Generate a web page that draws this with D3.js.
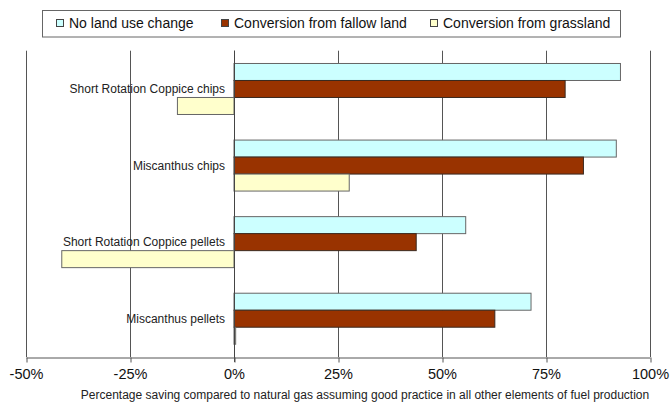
<!DOCTYPE html>
<html>
<head>
<meta charset="utf-8">
<script src="https://cdn.jsdelivr.net/npm/d3@7"></script>
<style>
  html, body { margin: 0; padding: 0; background: #fff; }
  svg { display: block; font-family: "Liberation Sans", Arial, sans-serif; }
</style>
</head>
<body>
<svg id="chart" width="670" height="402"></svg>
<script>
const categories = ["Short Rotation Coppice chips", "Miscanthus chips", "Short Rotation Coppice pellets", "Miscanthus pellets"];
const seriesNames = ["No land use change", "Conversion from fallow land", "Conversion from grassland"];
const noLandUseChange = [92.9, 91.9, 55.7, 71.4];
const fallowLand = [79.6, 84.0, 43.8, 62.7];
const grassland = [-13.6, 27.7, -41.4, 0.4];
const tickValues = [-50, -25, 0, 25, 50, 75, 100];
const colors = ["#CCFFFF", "#993300", "#FFFFCC"];
const xTitle = "Percentage saving compared to natural gas assuming good practice in all other elements of fuel production";

const series = [noLandUseChange, fallowLand, grassland];
const svg = d3.select("#chart");
const plot = { left: 26, right: 650, top: 50.7, bottom: 357 };

const x = d3.scaleLinear().domain([-50, 100]).range([plot.left, plot.right]);
const y = d3.scaleBand().domain(categories).range([plot.top, plot.bottom]).paddingInner(0.334).paddingOuter(0.167);
const ySub = d3.scaleBand().domain(d3.range(series.length)).range([0, y.bandwidth()]);

// gridlines
svg.append("g").selectAll("line").data(tickValues).join("line")
  .attr("x1", d => Math.round(x(d)) + 0.5).attr("x2", d => Math.round(x(d)) + 0.5)
  .attr("y1", plot.top).attr("y2", plot.bottom)
  .attr("stroke", "#555").attr("stroke-width", 1);

// bars
const groups = svg.append("g").selectAll("g").data(categories).join("g")
  .attr("transform", d => `translate(0,${y(d)})`);
groups.selectAll("rect").data((c, i) => series.map((s, k) => ({ k, v: s[i] }))).join("rect")
  .attr("x", d => x(Math.min(0, d.v)))
  .attr("width", d => Math.abs(x(d.v) - x(0)))
  .attr("y", d => ySub(d.k))
  .attr("height", ySub.bandwidth())
  .attr("fill", d => colors[d.k])
  .attr("stroke", d => d.k === 1 ? "#3a2a20" : "#666")
  .attr("stroke-width", 1);

// zero line over bars
svg.append("line")
  .attr("x1", Math.round(x(0)) + 0.5).attr("x2", Math.round(x(0)) + 0.5)
  .attr("y1", plot.top).attr("y2", plot.bottom + 5)
  .attr("stroke", "#444");

// x axis
const xAxis = d3.axisBottom(x).tickValues(tickValues).tickSize(5).tickSizeOuter(0).tickFormat(d => d + "%");
const gx = svg.append("g").attr("transform", `translate(0,${plot.bottom + 0.5})`).call(xAxis);
gx.select(".domain").attr("stroke", "#555");
gx.selectAll(".tick line").attr("stroke", "#555").attr("transform", "translate(0.5,0)");
gx.selectAll(".tick text").attr("font-size", 14.5).attr("fill", "#111").attr("dy", "0.9em")
  .attr("font-family", "'Liberation Sans', Arial, sans-serif");

// category labels
svg.append("g").selectAll("text").data(categories).join("text")
  .attr("x", 225).attr("y", d => y(d) + y.bandwidth() / 2)
  .attr("dy", "0.35em").attr("text-anchor", "end")
  .attr("font-size", 12).attr("fill", "#222").text(d => d);

// x title
svg.append("text").attr("x", 365).attr("y", 399).attr("text-anchor", "middle")
  .attr("font-size", 12).attr("fill", "#222").text(xTitle);

// legend
const lg = svg.append("g");
lg.append("rect").attr("x", 42.5).attr("y", 10.5).attr("width", 578).attr("height", 26.5)
  .attr("fill", "#fff").attr("stroke", "#666");
const legendX = [56, 221, 430];
seriesNames.forEach((n, i) => {
  lg.append("rect").attr("x", legendX[i] + 0.5).attr("y", 19.5).attr("width", 7).attr("height", 7)
    .attr("fill", colors[i]).attr("stroke", "#444");
  lg.append("text").attr("x", legendX[i] + 13).attr("y", 23).attr("dy", "0.35em")
    .attr("font-size", 14).attr("fill", "#111").text(n);
});
</script>
</body>
</html>
